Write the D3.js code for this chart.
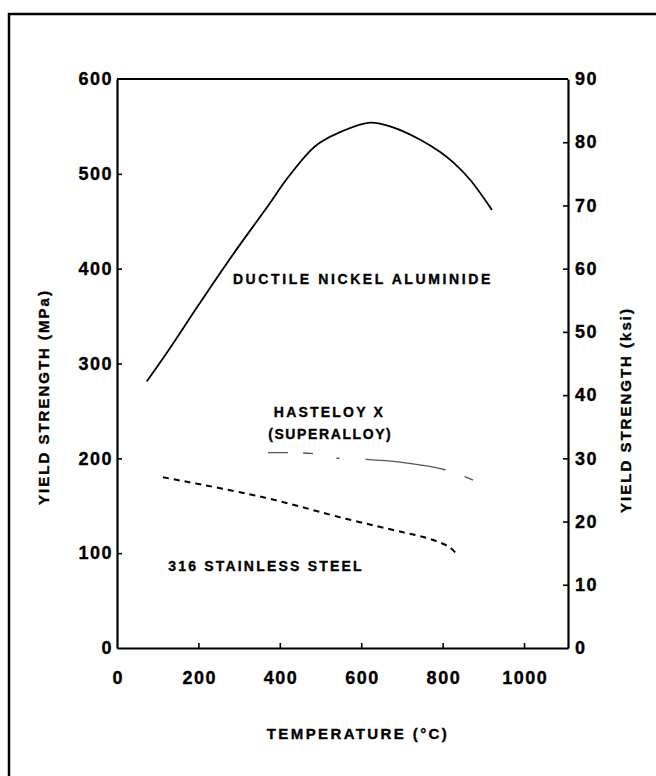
<!DOCTYPE html>
<html><head><meta charset="utf-8">
<script src="https://cdn.jsdelivr.net/npm/d3@7"></script>
<style>body{margin:0;background:#fff}svg{display:block}text{font-family:"Liberation Sans",Arial,Helvetica,sans-serif;font-weight:bold;fill:#000;stroke:#000;stroke-width:0.35px}</style>
</head><body>
<script>
// ---- data ----
const xTicks = [0, 200, 400, 600, 800, 1000];
const yTicksMPa = [0, 100, 200, 300, 400, 500, 600];
const yTicksKsi = [0, 10, 20, 30, 40, 50, 60, 70, 80, 90];
// Ductile nickel aluminide: [temperature °C, yield strength MPa]
const nickelAluminide = [[73,281],[122,311],[204,364],[285,415],[369,465],[418,495],[474,524],[499,533],[548,544],[622,554],[678,549],[745,536],[794,523],[826,512],[867,494],[921,462]];
// Hastelloy X (superalloy)
const hastelloyX = [[371,206],[482,205],[545,200],[609,199],[695,196],[806,188],[875,177]];
// 316 stainless steel
const stainless316 = [[113,180],[359,159],[565,136],[703,122],[769,115],[818,106],[838,97]];

const W = 656, H = 776;
const svg = d3.select("body").append("svg").attr("width", W).attr("height", H);
svg.append("rect").attr("width", W).attr("height", H).attr("fill", "#fff");

// outer frame (top and left edges)
svg.append("path").attr("d", `M9,${H} V14 H${W}`).attr("fill","none").attr("stroke","#000").attr("stroke-width",2.5);

const x = d3.scaleLinear().domain([0, 1108]).range([117, 568]);
const y = d3.scaleLinear().domain([0, 600]).range([648, 79]);
const yR = d3.scaleLinear().domain([0, 90]).range([648, 79]);

const tickFont = g => g.selectAll("text").style("font-size","18px").style("letter-spacing","1.5px");

const gL = svg.append("g").attr("transform", `translate(${x(0)},0)`)
  .call(d3.axisLeft(y).tickValues(yTicksMPa).tickFormat(d3.format("d")).tickSizeInner(-5).tickSizeOuter(0).tickPadding(4));
const gR = svg.append("g").attr("transform", `translate(${x(1108)},0)`)
  .call(d3.axisRight(yR).tickValues(yTicksKsi).tickFormat(d3.format("d")).tickSizeInner(-5).tickSizeOuter(0).tickPadding(7));
const gB = svg.append("g").attr("transform", `translate(0,${y(0)})`)
  .call(d3.axisBottom(x).tickValues(xTicks).tickFormat(d3.format("d")).tickSizeInner(-5).tickSizeOuter(0).tickPadding(23));
[gL, gR, gB].forEach(g => {
  g.select(".domain").attr("stroke-width", 2.2);
  g.selectAll(".tick line").attr("stroke-width", 1.6);
  tickFont(g);
});
gB.selectAll(".tick text").attr("dx", "0.75px");
// remove inner tick marks at ends where they'd overlap frame
gB.selectAll(".tick line").filter(d => d === 0).remove();
gL.selectAll(".tick line").filter(d => d === 0 || d === 600).remove();
gR.selectAll(".tick line").filter(d => d === 0 || d === 90).remove();
// top border of plot
svg.append("line").attr("x1", x(0)).attr("x2", x(1108)).attr("y1", y(600)).attr("y2", y(600))
  .attr("stroke","#000").attr("stroke-width",2.2);

// axis titles
svg.append("text").attr("transform","translate(43,397) rotate(-90)").attr("text-anchor","middle")
  .attr("dominant-baseline","central").style("font-size","15px").style("letter-spacing","2px")
  .text("YIELD STRENGTH (MPa)");
svg.append("text").attr("transform","translate(625,410) rotate(-90)").attr("text-anchor","middle")
  .attr("dominant-baseline","central").style("font-size","15px").style("letter-spacing","2px")
  .text("YIELD STRENGTH (ksi)");
svg.append("text").attr("x",358).attr("y",733).attr("text-anchor","middle")
  .attr("dominant-baseline","central").style("font-size","15px").style("letter-spacing","2.4px")
  .text("TEMPERATURE (°C)");

// curves
const line = d3.line().x(d => x(d[0])).y(d => y(d[1])).curve(d3.curveCatmullRom.alpha(0.5));
svg.append("path").datum(nickelAluminide).attr("d", line).attr("fill","none")
  .attr("stroke","#000").attr("stroke-width",1.8);
svg.append("path").datum(hastelloyX).attr("d", line).attr("fill","none")
  .attr("stroke","#555").attr("stroke-width",1.4).attr("stroke-dasharray","20,15,10,24,3,26,81,20,9,100");
svg.append("path").datum(stainless316).attr("d", line).attr("fill","none")
  .attr("stroke","#000").attr("stroke-width",2).attr("stroke-dasharray","6,5");

// curve labels
const lab = (t, tx, my, ls) => svg.append("text").attr("x", x(tx)).attr("y", y(my))
  .attr("text-anchor","middle").attr("dominant-baseline","central")
  .style("font-size","14px").style("letter-spacing", ls).text(t);
lab("DUCTILE NICKEL ALUMINIDE", 604, 389, "2.6px");
lab("HASTELOY X", 522, 249, "2.2px");
lab("(SUPERALLOY)", 524, 226, "1.6px");
lab("316 STAINLESS STEEL", 366, 86, "2.2px");
</script>
</body></html>
